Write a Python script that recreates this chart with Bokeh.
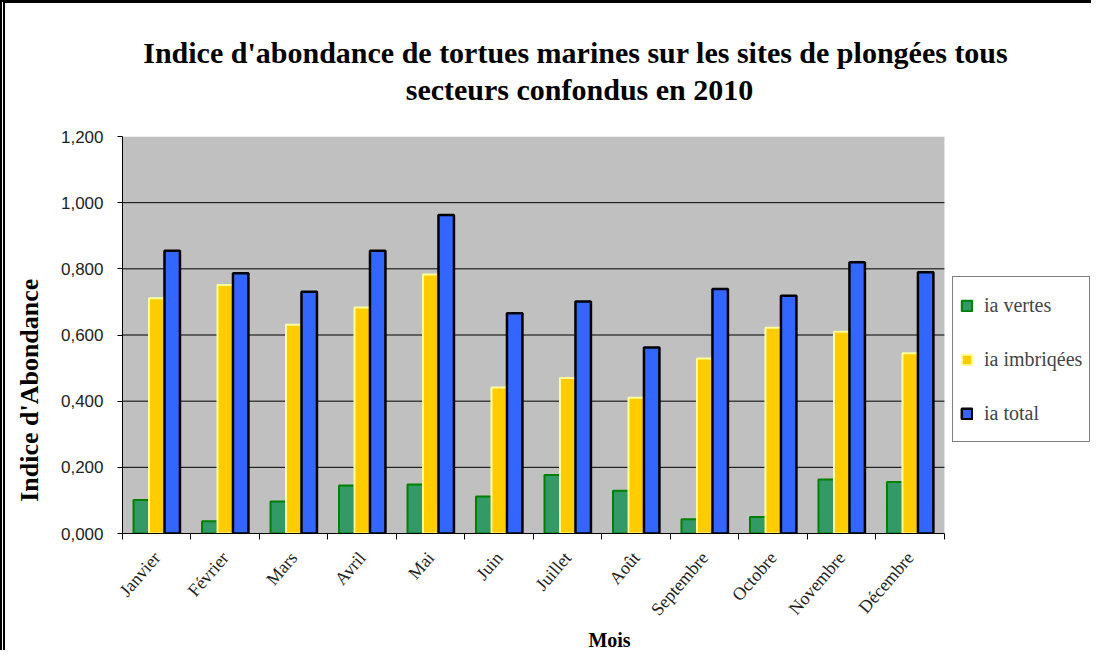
from bokeh.plotting import figure
from bokeh.models import (ColumnDataSource, FixedTicker, CustomJSTickFormatter, Legend,
                          LegendItem, Range1d)
from bokeh.transform import dodge
from bokeh.embed import file_html
from bokeh.resources import INLINE

months = ["Janvier", "Février", "Mars", "Avril", "Mai", "Juin", "Juillet", "Août",
          "Septembre", "Octobre", "Novembre", "Décembre"]
ia_vertes = [0.101, 0.037, 0.097, 0.145, 0.148, 0.112, 0.177, 0.129, 0.043, 0.050, 0.163, 0.156]
ia_imbriquees = [0.711, 0.751, 0.631, 0.683, 0.783, 0.441, 0.470, 0.410, 0.529, 0.622, 0.610, 0.545]
ia_total = [0.855, 0.787, 0.731, 0.855, 0.963, 0.666, 0.701, 0.562, 0.739, 0.719, 0.820, 0.790]
y_ticks = [0.0, 0.2, 0.4, 0.6, 0.8, 1.0, 1.2]

title_line1 = "Indice d'abondance de tortues marines sur les sites de plongées tous"
title_line2 = "secteurs confondus en 2010"
y_label = "Indice d'Abondance"
x_label = "Mois"

n = len(months)
idx = list(range(n))
src = ColumnDataSource(dict(x=idx, v=ia_vertes, i=ia_imbriquees, t=ia_total))

SERIF = "Liberation Serif"
NB = "\u00a0"

# category area spans -0.5 .. n-0.5; the frame continues to the right to hold the legend
x_lo, x_hi = -0.5, n - 0.5
extra = 2.22
y_lo, y_hi = y_ticks[0], y_ticks[-1]

p = figure(width=1091, height=650, output_backend="svg", toolbar_location=None,
           x_range=Range1d(x_lo, x_hi + extra), y_range=Range1d(y_lo, y_hi),
           min_border_left=117, min_border_right=0, min_border_top=132, min_border_bottom=120,
           background_fill_color="white", border_fill_color="white",
           styles={"border-left": "5px double black", "border-top": "3px solid black"})
p.outline_line_color = None

# title: two centred lines, nudged like the reference
p.title.text = title_line1 + NB * 9 + "\n" + NB * 35 + title_line2
p.title.align = "center"
p.title.vertical_align = "bottom"
p.title.standoff = 60
p.title.text_font = SERIF
p.title.text_font_style = "bold"
p.title.text_font_size = "30px"
p.title.text_color = "black"
p.title.text_line_height = 1.15

# grey plot area and horizontal grid lines, limited to the category area
p.quad(left=[x_lo], right=[x_hi], bottom=[y_lo], top=[y_hi], fill_color="#C0C0C0",
       line_color=None, level="underlay")
grid_vals = [t for t in y_ticks if y_lo < t < y_hi]
p.segment(x0=[x_lo] * len(grid_vals), x1=[x_hi] * len(grid_vals), y0=grid_vals, y1=grid_vals,
          line_color="black", line_width=1, level="underlay")

bw = 0.226
r1 = p.vbar(x=dodge("x", -bw, range=p.x_range), top="v", width=bw, source=src,
            fill_color="#339966", line_color="#008000", line_width=2)
r2 = p.vbar(x=dodge("x", 0.0, range=p.x_range), top="i", width=bw, source=src,
            fill_color="#FFCC00", line_color="#FFFF99", line_width=2)
r3 = p.vbar(x=dodge("x", bw, range=p.x_range), top="t", width=bw, source=src,
            fill_color="#3366FF", line_color="black", line_width=2.5)

# x axis
xa = p.xaxis[0]
xa.bounds = (x_lo, x_hi)
xa.ticker = FixedTicker(ticks=idx, minor_ticks=[k - 0.5 for k in range(n + 1)])
xa.major_label_overrides = {k: m for k, m in enumerate(months)}
xa.major_tick_line_color = None
xa.major_tick_out = 0
xa.minor_tick_line_color = "black"
xa.minor_tick_out = 6
xa.minor_tick_in = 0
xa.major_label_orientation = 0.86
xa.major_label_text_font = SERIF
xa.major_label_text_font_size = "18px"
xa.major_label_text_color = "#222222"
xa.major_label_standoff = 15
xa.axis_line_color = "black"
xa.axis_label = x_label
xa.axis_label_text_font = SERIF
xa.axis_label_text_font_style = "bold"
xa.axis_label_text_font_size = "20px"
xa.axis_label_text_color = "black"
xa.axis_label_standoff = 0

# y axis
ya = p.yaxis[0]
ya.ticker = FixedTicker(ticks=y_ticks, minor_ticks=[])
ya.formatter = CustomJSTickFormatter(code="return tick.toFixed(3).replace('.', ',');")
ya.major_tick_out = 5
ya.major_tick_in = 0
ya.major_tick_line_color = "black"
ya.axis_line_color = "black"
ya.major_label_text_font = "Liberation Sans"
ya.major_label_text_font_size = "17px"
ya.major_label_text_color = "#222222"
ya.major_label_standoff = 14
ya.axis_label = y_label + NB * 17
ya.axis_label_text_font = SERIF
ya.axis_label_text_font_style = "bold"
ya.axis_label_text_font_size = "26px"
ya.axis_label_text_color = "black"
ya.axis_label_standoff = 14

p.xgrid.visible = False
p.ygrid.visible = False

legend = Legend(items=[LegendItem(label="ia vertes", renderers=[r1]),
                       LegendItem(label="ia imbriqées", renderers=[r2]),
                       LegendItem(label="ia total", renderers=[r3])],
                location=(830, 91), orientation="vertical",
                border_line_color="black", border_line_width=1,
                background_fill_color="white", background_fill_alpha=1,
                label_text_font=SERIF, label_text_font_size="20px",
                glyph_width=13, glyph_height=13, label_height=42, spacing=12,
                padding=7, margin=0, label_standoff=11)
p.add_layout(legend, "center")

open("out.html", "w").write(file_html(p, INLINE))
